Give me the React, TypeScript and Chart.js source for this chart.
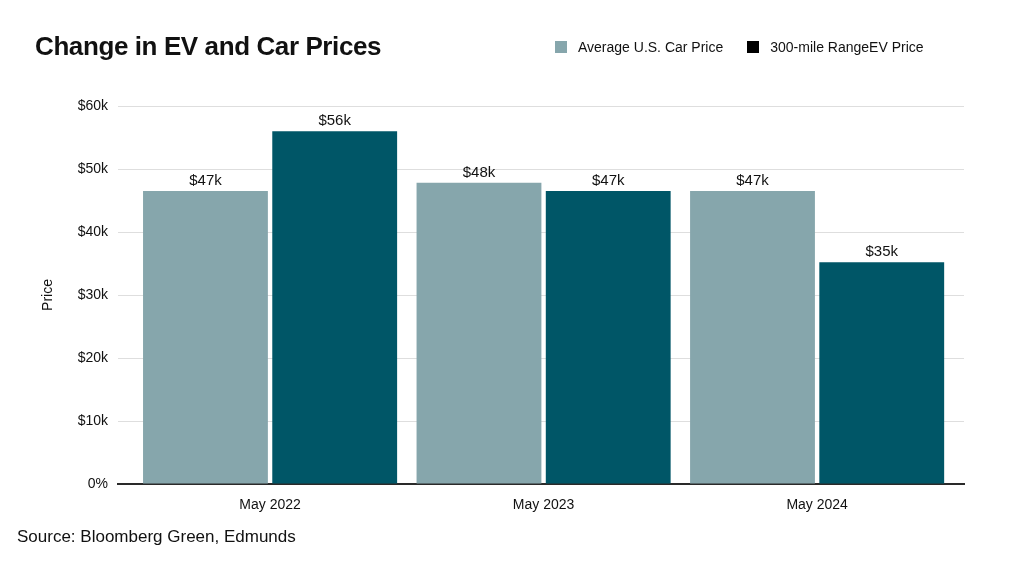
import { Chart, registerables } from "chart.js";
import { useEffect, useRef } from "react";

Chart.register(...registerables);

const categories = ["May 2022", "May 2023", "May 2024"];
const avgCarPrice = [46.5, 47.8, 46.5];
const evPrice = [56.0, 46.5, 35.2];
const avgLabels = ["$47k", "$48k", "$47k"];
const evLabels = ["$56k", "$47k", "$35k"];
const yTicks = ["0%", "$10k", "$20k", "$30k", "$40k", "$50k", "$60k"];

const FONT = "'Liberation Sans', Arial, sans-serif";

// draws the "$47k" style labels above each bar
const barLabels = {
  id: "barLabels",
  afterDatasetsDraw(chart: Chart) {
    const ctx = chart.ctx;
    const texts = [avgLabels, evLabels];
    ctx.save();
    ctx.font = `15px ${FONT}`;
    ctx.fillStyle = "#111";
    ctx.textAlign = "center";
    ctx.textBaseline = "alphabetic";
    chart.data.datasets.forEach((_, i) => {
      chart.getDatasetMeta(i).data.forEach((bar: any, j: number) => {
        ctx.fillText(texts[i][j], bar.x, bar.y - 6);
      });
    });
    ctx.restore();
  },
};

const App = () => {
  const chartRef = useRef<HTMLCanvasElement>(null);

  useEffect(() => {
    if (!chartRef.current) return;
    const ctx = chartRef.current.getContext("2d");
    if (!ctx) return;
    const chart = new Chart(ctx, {
      type: "bar",
      data: {
        datasets: [
          {
            label: "Average U.S. Car Price",
            data: avgCarPrice.map((v, i) => ({ x: i, y: v })),
            backgroundColor: "#86a6ac",
          },
          {
            label: "300-mile RangeEV Price",
            data: evPrice.map((v, i) => ({ x: i, y: v })),
            backgroundColor: "#005667",
          },
        ],
      },
      options: {
        responsive: true,
        maintainAspectRatio: false,
        animation: false,
        layout: { padding: { left: 36, right: 60, top: 106, bottom: 41 } },
        datasets: { bar: { categoryPercentage: 0.945, barPercentage: 0.966 } },
        plugins: {
          legend: { display: false },
          tooltip: { enabled: false },
        },
        scales: {
          x: {
            type: "linear",
            offset: false,
            min: -0.556,
            max: 2.537,
            grid: { display: false },
            border: { color: "#2a2a2a", width: 2 },
            afterBuildTicks: (s: any) => {
              s.ticks = categories.map((_, i) => ({ value: i }));
            },
            ticks: {
              color: "#111",
              font: { family: FONT, size: 14 },
              padding: 5,
              callback: (v: any) => categories[v],
            },
            afterFit: (s: any) => {
              s.height = 40;
            },
          },
          y: {
            min: 0,
            max: 60,
            grid: { color: "#dedede", drawTicks: false },
            border: { display: false },
            ticks: {
              stepSize: 10,
              color: "#111",
              padding: 10,
              font: { family: FONT, size: 14 },
              callback: (_v: any, i: number) => yTicks[i],
            },
            title: {
              display: true,
              text: "Price",
              color: "#111",
              font: { family: FONT, size: 14 },
            },
            afterFit: (s: any) => {
              s.width = 82;
            },
          },
        },
      },
      plugins: [barLabels],
    });
    return () => chart.destroy();
  }, []);

  const legendItem = (color: string, text: string) => (
    <div style={{ display: "flex", alignItems: "center", marginRight: 24 }}>
      <span style={{ width: 12, height: 12, background: color, marginRight: 11 }} />
      <span>{text}</span>
    </div>
  );

  return (
    <div style={{ position: "relative", width: 1024, height: 565, margin: -8, background: "#fff", fontFamily: FONT, color: "#111" }}>
      <canvas ref={chartRef}></canvas>
      <div style={{ position: "absolute", left: 35, top: 31, fontSize: 26, fontWeight: "bold", letterSpacing: -0.4 }}>
        Change in EV and Car Prices
      </div>
      <div style={{ position: "absolute", left: 555, top: 39, display: "flex", fontSize: 14 }}>
        {legendItem("#86a6ac", "Average U.S. Car Price")}
        {legendItem("#000", "300-mile RangeEV Price")}
      </div>
      <div style={{ position: "absolute", left: 17, top: 527, fontSize: 17 }}>
        Source: Bloomberg Green, Edmunds
      </div>
    </div>
  );
};

export default App;
